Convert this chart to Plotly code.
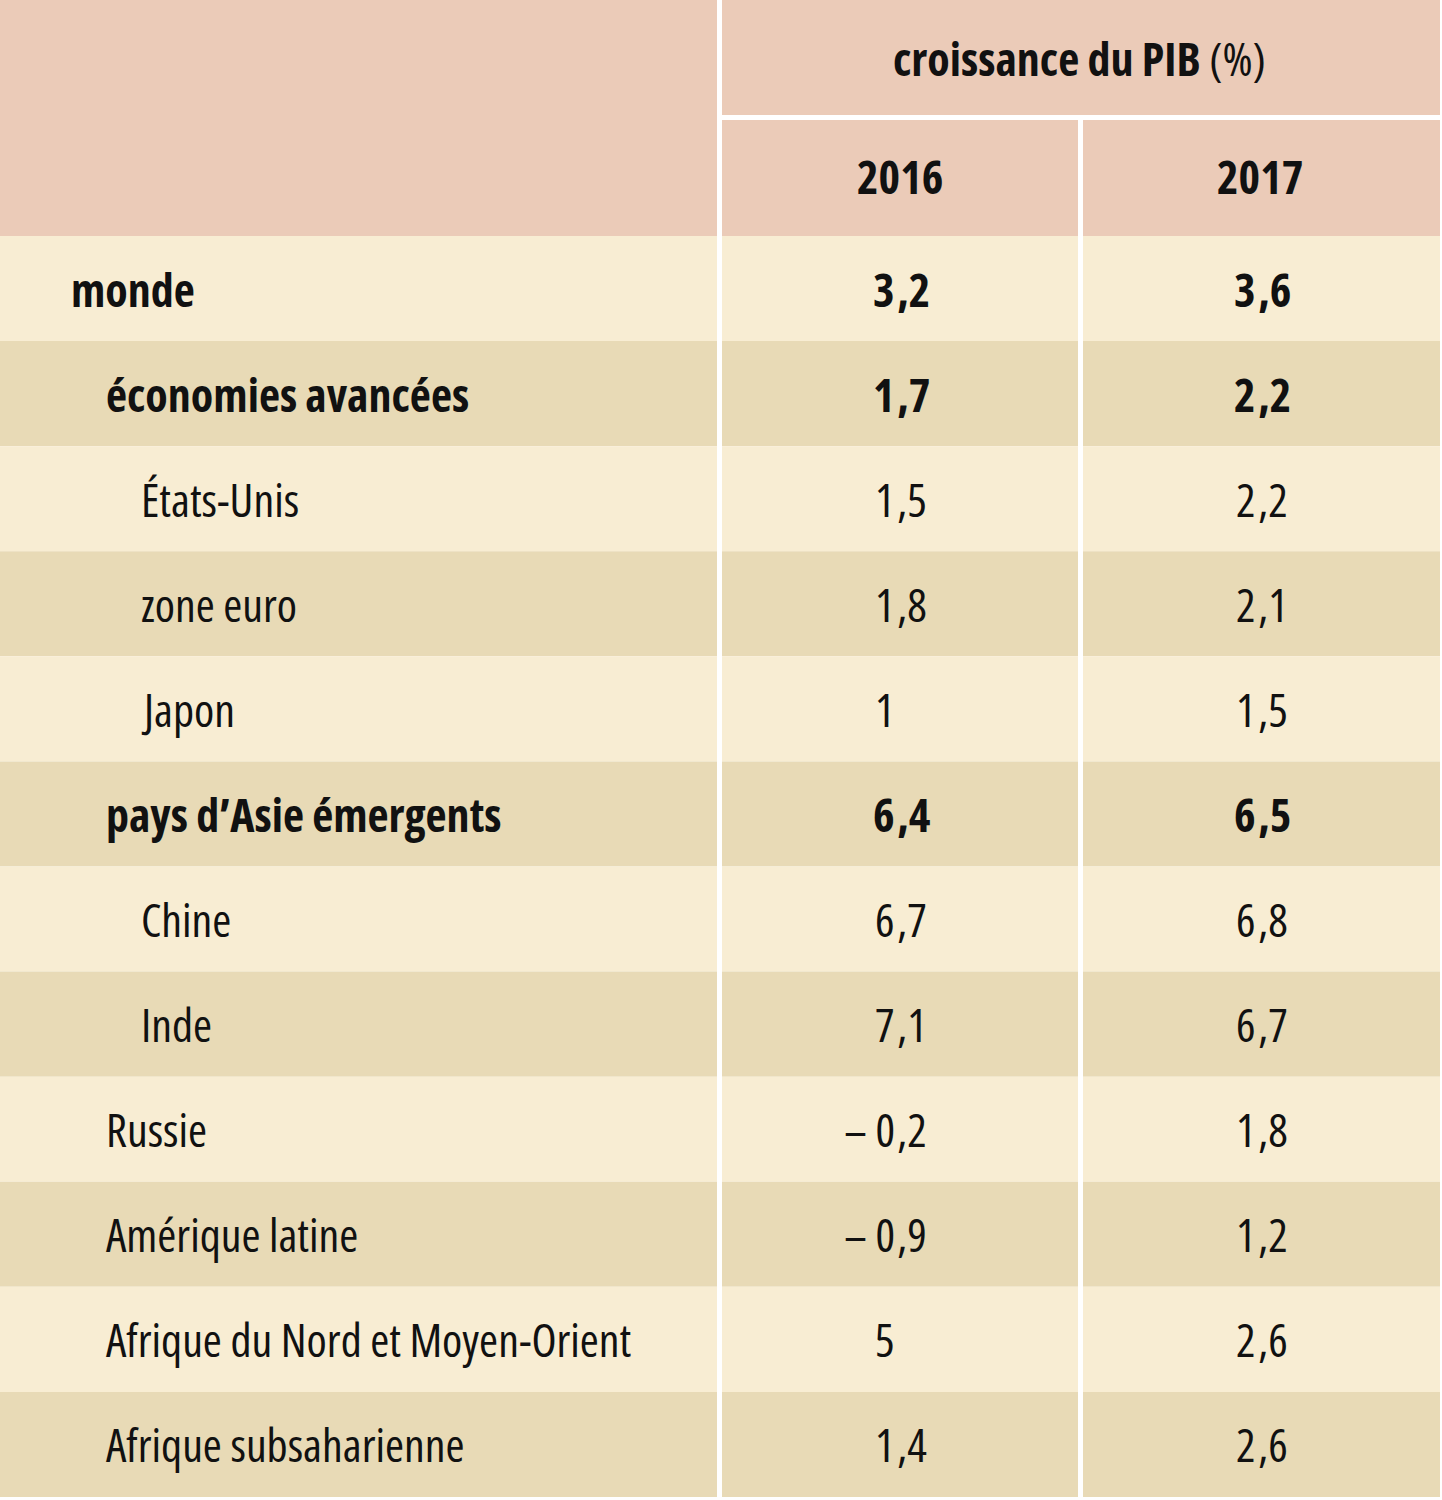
import plotly.graph_objects as go

# ---- data ----
labels = ["monde", "économies avancées", "États-Unis", "zone euro", "Japon",
          "pays d’Asie émergents", "Chine", "Inde", "Russie", "Amérique latine",
          "Afrique du Nord et Moyen-Orient", "Afrique subsaharienne"]
levels = [0, 1, 2, 2, 2, 1, 2, 2, 1, 1, 1, 1]
bold = [True, True, False, False, False, True, False, False, False, False, False, False]
years = ["2016", "2017"]
g2016 = [3.2, 1.7, 1.5, 1.8, 1, 6.4, 6.7, 7.1, -0.2, -0.9, 5, 1.4]
g2017 = [3.6, 2.2, 2.2, 2.1, 1.5, 6.5, 6.8, 6.7, 1.8, 1.2, 2.6, 2.6]
header_title_bold = "croissance du PIB"
header_title_reg = "(%)"

# ---- layout constants ----
W, H = 1442, 1500
FONT = "Open Sans"
FS = 46
PINK = "#EBCBB8"
CREAM = "#F8EDD3"
TAN = "#E8DAB6"
TXT = "#111111"
col_edges = [0, 719.5, 1080.5, 1440]
head1_h, head2_y0, head_bottom = 115, 120, 236
row_h = (1497 - head_bottom) / len(labels)
indent = [70, 105, 140]
dec_pos = [896, 1257]
gap = 5

def fnt():
    return dict(family=FONT, size=FS, color=TXT)

def split_num(v):
    s = ("%g" % abs(v)).replace(".", ",")
    if "," in s:
        ip, dp = s.split(",")
        dp = "," + dp
    else:
        ip, dp = s, ""
    if v < 0:
        ip = "– " + ip
    return ip, dp

shapes = []
ann = []

def rect(x0, y0, x1, y1, color):
    shapes.append(dict(type="rect", xref="x", yref="y", x0=x0, x1=x1, y0=y0, y1=y1,
                       fillcolor=color, line=dict(width=0), layer="below"))

# header
rect(0, 0, col_edges[1], head_bottom, PINK)
rect(col_edges[1], 0, col_edges[3], head1_h, PINK)
rect(col_edges[1], head2_y0, col_edges[3], head_bottom, PINK)
ann.append(dict(x=(col_edges[1] + col_edges[3]) / 2, y=head1_h / 2,
                text=f"<b>{header_title_bold}</b> {header_title_reg}",
                showarrow=False, xanchor="center", yanchor="middle", font=fnt()))
for j, yr in enumerate(years):
    ann.append(dict(x=(col_edges[j + 1] + col_edges[j + 2]) / 2, y=(head2_y0 + head_bottom) / 2 - 2,
                    text=f"<b>{yr}</b>", showarrow=False, xanchor="center", yanchor="middle",
                    font=fnt()))

# body
for i, lab in enumerate(labels):
    y0 = head_bottom + i * row_h
    y1 = y0 + row_h
    yc = (y0 + y1) / 2
    rect(0, y0, col_edges[3], y1, CREAM if i % 2 == 0 else TAN)
    b = bold[i]
    ann.append(dict(x=indent[levels[i]], y=yc, text=f"<b>{lab}</b>" if b else lab,
                    showarrow=False, xanchor="left", yanchor="middle", borderpad=0,
                    font=fnt()))
    for j, series in enumerate([g2016, g2017]):
        ip, dp = split_num(series[i])
        ann.append(dict(x=dec_pos[j], y=yc, text=f"<b>{ip}</b>" if b else ip,
                        showarrow=False, xanchor="right", yanchor="middle", borderpad=0,
                        font=fnt()))
        if dp:
            ann.append(dict(x=dec_pos[j], y=yc, text=f"<b>{dp}</b>" if b else dp,
                            showarrow=False, xanchor="left", yanchor="middle", borderpad=0,
                            font=fnt()))

# white separators (the one between the two year columns starts below the merged header)
sep_y0 = [0, (head1_h + head2_y0) / 2]
for xe, ys in zip(col_edges[1:3], sep_y0):
    shapes.append(dict(type="line", xref="x", yref="y", x0=xe, x1=xe, y0=ys, y1=H,
                       line=dict(color="white", width=gap), layer="below"))
shapes.append(dict(type="line", xref="x", yref="y", x0=col_edges[1], x1=W, y0=(head1_h + head2_y0) / 2,
                   y1=(head1_h + head2_y0) / 2, line=dict(color="white", width=gap), layer="below"))

fig = go.Figure()
fig.add_trace(go.Scatter(x=[0, W], y=[0, H], mode="markers", marker=dict(opacity=0),
                         hoverinfo="skip", showlegend=False))
fig.update_layout(
    width=W, height=H, margin=dict(l=0, r=0, t=0, b=0),
    paper_bgcolor="white", plot_bgcolor="white",
    xaxis=dict(range=[0, W], visible=False, fixedrange=True),
    yaxis=dict(range=[H, 0], visible=False, fixedrange=True),
    shapes=shapes, annotations=ann, showlegend=False,
)

# condensed width of the Open Sans face (applied before re-measuring the text)
post = """
document.body.style.margin = '0px';
var gd = document.getElementById('{plot_id}');
var st = document.createElement('style');
st.innerHTML = 'text { font-stretch: 75% !important; }';
document.head.appendChild(st);
var anns = gd.layout.annotations.map(function(a){
    var b = JSON.parse(JSON.stringify(a));
    b.font.family = 'Open Sans, sans-serif';
    return b;
});
var lay = Object.assign({}, gd.layout, {annotations: anns});
Plotly.newPlot(gd, gd.data, lay, {displayModeBar: false});
"""
fig.write_html("out.html", config={"displayModeBar": False}, post_script=post)
